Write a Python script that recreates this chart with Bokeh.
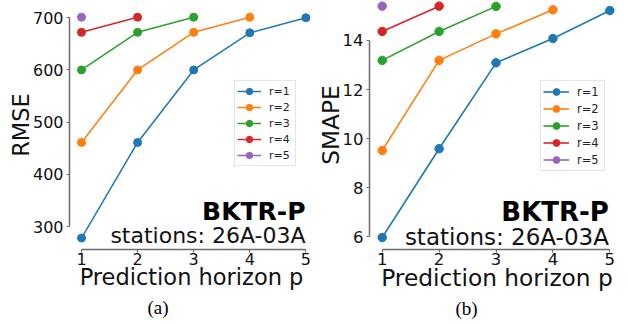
from bokeh.plotting import figure
from bokeh.models import Range1d, FixedTicker, Label, Legend, LegendItem, Title
from bokeh.layouts import row
from bokeh.embed import file_html
from bokeh.resources import INLINE

# ---------------- data ----------------
horizons = [1, 2, 3, 4, 5]
series_names = ["r=1", "r=2", "r=3", "r=4", "r=5"]
colors = ["#1f77b4", "#ff7f0e", "#2ca02c", "#d62728", "#9467bd"]

rmse_r1 = [278, 461, 600, 671, 700]
rmse_r2 = [461, 600, 672, 701]
rmse_r3 = [600, 672, 701]
rmse_r4 = [672, 701]
rmse_r5 = [701]

smape_r1 = [5.97, 9.59, 13.09, 14.08, 15.22]
smape_r2 = [9.52, 13.19, 14.27, 15.25]
smape_r3 = [13.19, 14.37, 15.39]
smape_r4 = [14.37, 15.40]
smape_r5 = [15.40]

x_ticks = [1, 2, 3, 4, 5]
rmse_ticks = [300, 400, 500, 600, 700]
smape_ticks = [6, 8, 10, 12, 14]

x_label = "Prediction horizon p"
model_name = "BKTR-P"
station_text = "stations: 26A-03A"

FONT = "DejaVu Sans"
SPINE = "#6b6b6b"


def make_panel(cfg, series, ticks, ylabel, caption):
    p = figure(width=cfg["w"], height=324,
               x_range=Range1d(*cfg["xr"]), y_range=Range1d(*cfg["yr"]),
               output_backend="svg", toolbar_location=None,
               min_border_left=cfg["bl"], min_border_right=cfg["br"],
               min_border_top=0, min_border_bottom=cfg["bb"])
    p.outline_line_color = None
    p.xgrid.visible = False
    p.ygrid.visible = False
    p.background_fill_color = "white"
    p.border_fill_color = "white"

    for ax in (p.xaxis, p.yaxis):
        ax.axis_line_color = SPINE
        ax.axis_line_width = 1.5
        ax.major_tick_line_color = SPINE
        ax.major_tick_line_width = 1.2
        ax.major_tick_out = 3
        ax.major_tick_in = 0
        ax.minor_tick_line_color = None
        ax.major_label_text_font = FONT
        ax.major_label_text_font_size = cfg["tick_fs"]
        ax.major_label_text_color = "#111111"
        ax.axis_label_text_font = FONT
        ax.axis_label_text_font_size = cfg["lab_fs"]
        ax.axis_label_text_font_style = "normal"
        ax.axis_label_text_color = "#111111"
    p.xaxis.ticker = FixedTicker(ticks=x_ticks)
    p.yaxis.ticker = FixedTicker(ticks=ticks)
    p.xaxis.bounds = (x_ticks[0], x_ticks[-1])
    p.yaxis.bounds = (ticks[0], ticks[-1])
    p.xaxis.major_label_standoff = 0
    p.yaxis.major_label_standoff = 3
    p.xaxis.axis_label = x_label
    p.yaxis.axis_label = ylabel
    p.xaxis.axis_label_standoff = cfg["xls"]
    p.yaxis.axis_label_standoff = cfg["yls"]

    items = []
    for name, col, vals in zip(series_names, colors, series):
        xs = horizons[:len(vals)]
        lr = p.line(xs, vals, line_color=col, line_width=cfg["lw"])
        sr = p.scatter(xs, vals, size=cfg["ms"], fill_color=col, line_color=col)
        items.append(LegendItem(label=name, renderers=[lr, sr]))

    leg = Legend(items=items, location=cfg["leg_loc"],
                 glyph_width=cfg["gw"], glyph_height=cfg["gh"], label_height=cfg["gh"],
                 label_width=cfg["lwid"], label_standoff=cfg["ls"],
                 spacing=0, padding=2, margin=0,
                 border_line_color="#cccccc", border_line_width=1,
                 background_fill_color="white", background_fill_alpha=0.85,
                 label_text_font=FONT, label_text_font_size=cfg["leg_fs"],
                 label_text_color="#222222")
    p.add_layout(leg)

    p.add_layout(Label(x=cfg["m_pos"][0], y=cfg["m_pos"][1], text=model_name,
                       text_align="right", text_baseline="alphabetic",
                       text_font=FONT, text_font_style="bold",
                       text_font_size=cfg["m_fs"], text_color="#000000"))
    p.add_layout(Label(x=cfg["s_pos"][0], y=cfg["s_pos"][1], text=station_text,
                       text_align="right", text_baseline="alphabetic",
                       text_font=FONT, text_font_size=cfg["s_fs"], text_color="#111111"))
    p.add_layout(Title(text=caption, align="left", offset=cfg["c_off"], standoff=5,
                       text_font="Liberation Serif", text_font_size="19px",
                       text_font_style="normal", text_color="#000000"), "below")
    return p


left_cfg = dict(w=313, xr=(0.786, 5.1355), yr=(256.0, 733.0), bl=69, br=0, bb=74,
                tick_fs="16px", lab_fs="22.5px", xls=-4, yls=-4,
                lw=1.5, ms=8, leg_loc=(165, 83), gw=24, gh=16, lwid=24,
                ls=8, leg_fs="11px", m_fs="25px", s_fs="22px",
                m_pos=(4.993, 328.0), s_pos=(4.993, 283.4), c_off=78)
right_cfg = dict(w=315, xr=(0.7768, 5.2575), yr=(5.483, 15.63), bl=51, br=4, bb=75,
                 tick_fs="16.5px", lab_fs="23.3px", xls=-4, yls=-4,
                 lw=1.6, ms=8.5, leg_loc=(171, 78), gw=26, gh=17, lwid=25,
                 ls=8, leg_fs="11.5px", m_fs="26px", s_fs="23px",
                 m_pos=(4.983, 7.02), s_pos=(4.983, 6.0), c_off=86)

p1 = make_panel(left_cfg, [rmse_r1, rmse_r2, rmse_r3, rmse_r4, rmse_r5],
                rmse_ticks, "RMSE", "(a)")
p2 = make_panel(right_cfg, [smape_r1, smape_r2, smape_r3, smape_r4, smape_r5],
                smape_ticks, "SMAPE", "(b)")

layout = row(p1, p2)
open("out.html", "w").write(file_html(layout, INLINE))
